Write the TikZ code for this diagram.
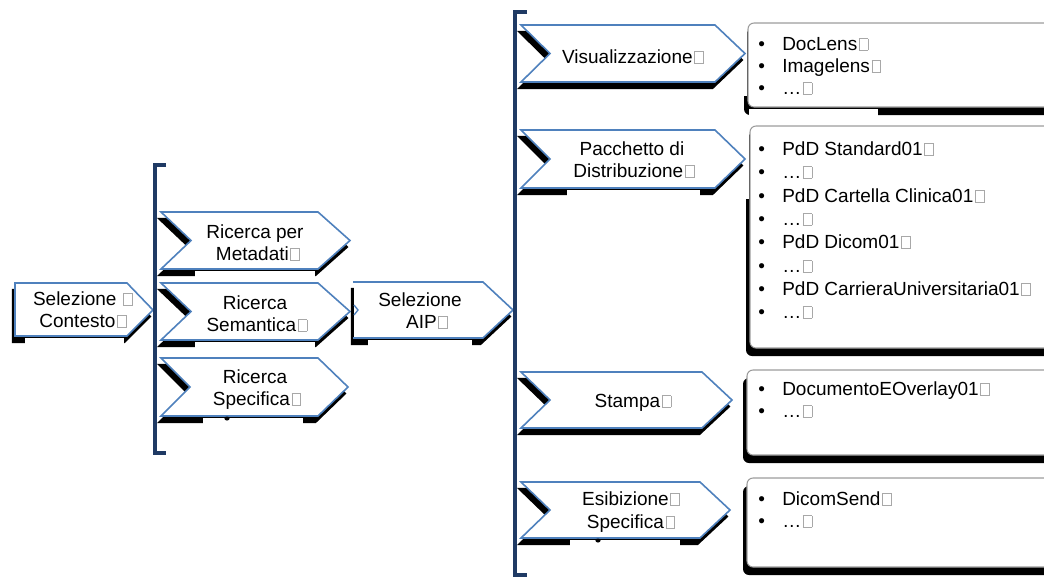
\documentclass[tikz,border=0pt]{standalone}
\usepackage{fontspec}
\setmainfont{Liberation Sans}
\definecolor{chevblue}{HTML}{4F81BD}
\definecolor{navy}{HTML}{1F3A64}
\definecolor{framegray}{HTML}{9C9C9C}
\definecolor{glgray}{HTML}{A8A8A8}
% small hollow square shown after each label
\newcommand\gl{\kern1.2pt{\color{glgray}\setlength\fboxrule{0.6pt}\setlength\fboxsep{0pt}\fbox{\rule{0pt}{8.2pt}\rule{6pt}{0pt}}}}
% chevron: shadow, white mask under the label area, white body with blue outline
\newcommand\chev[4]{%
  \filldraw[black,line width=1pt,shift={(-2.5,6.5)}] #1 -- cycle;
  \fill[white] (#2,#4+1.6) rectangle (#3,#4+12);
  \draw[chevline] #1 -- cycle;}
% rounded info panel with its dark drop shadow
\newcommand\panelshadow[4]{\fill[black,rounded corners=4.5pt,shift={(-4,8)}] (#1,#2) rectangle (#3,#4);}
\newcommand\panel[4]{\draw[panelline] (#1,#2) rectangle (#3,#4);}
\tikzset{
  chevline/.style={draw=chevblue,fill=white,line width=1.2pt,line join=miter},
  panelline/.style={draw=framegray,fill=white,line width=0.8pt,rounded corners=4.5pt},
  bracketline/.style={draw=navy,line width=2.3pt},
  lbl/.style={font=\fontsize{14.25pt}{16.5pt}\selectfont,inner sep=0pt,anchor=base},
  item/.style={font=\fontsize{14.25pt}{16.5pt}\selectfont,inner sep=0pt,anchor=base west},
}
\newcommand\bul[1]{\makebox[18pt][l]{•}#1}
\begin{document}
\begin{tikzpicture}[x=0.75pt,y=-0.75pt]
\path[use as bounding box] (0,0) rectangle (1044,576);
\clip (0,0) rectangle (1044,576);

% ---- right-hand panels ----
\panelshadow{748}{23}{1062}{107}
\panelshadow{750}{126}{1062}{348}
\panelshadow{747}{370}{1062}{455}
\panelshadow{747}{478}{1062}{567}
\fill[white] (735,18) rectangle (746.5,96);
\fill[white] (749,108.5) rectangle (878,120);
\fill[white] (735,120) rectangle (748.5,199);
\panel{748}{23}{1062}{107}
\panel{750}{126}{1062}{348}
\panel{747}{370}{1062}{455}
\panel{747}{478}{1062}{567}

% ---- chevrons ----
\chev{(15,283) -- (127,283) -- (153,310) -- (127,336) -- (15,336)}{25}{124}{336}
\chev{(161,212) -- (318,212) -- (350,240.5) -- (318,269) -- (161,269) -- (191,240.5)}{195}{315}{269}
\chev{(161,283) -- (318,283) -- (350,311.5) -- (318,340) -- (161,340) -- (191,311.5)}{195}{315}{340}
\chev{(161,358) -- (318,358) -- (348,387) -- (318,416) -- (161,416) -- (190,387)}{203}{303}{416}
\fill[black] (227,418.5) ellipse (2.6 and 2);
% AIP step: open on its left side
\filldraw[black,line width=1pt,shift={(-2.5,6.5)}] (354,282) -- (483,282) -- (513,310) -- (483,338) -- (354,338) -- cycle;
\fill[white] (368,339.6) rectangle (472,350);
\fill[white] (354,282) -- (483,282) -- (513,310) -- (483,338) -- (354,338) -- cycle;
\draw[chevblue,line width=1.2pt] (353,282) -- (483,282) -- (513,310) -- (483,338) -- (353,338);
\draw[chevblue,line width=1pt] (354,305) -- (358,310) -- (354,315);
\chev{(521,25) -- (715,25) -- (745,53.5) -- (715,82) -- (521,82) -- (550,53.5)}{0}{0}{82}
\chev{(521,130) -- (715,130) -- (745,159) -- (715,188) -- (521,188) -- (550,159)}{567}{700}{188}
\chev{(521,372) -- (702,372) -- (732,400) -- (702,428) -- (521,428) -- (550,400)}{0}{0}{428}
\chev{(521,482) -- (700,482) -- (730,510) -- (700,538) -- (521,538) -- (550,510)}{570}{680}{538}
\fill[black] (598,540.5) ellipse (2.6 and 2);

% ---- step labels ----
\node[lbl] (ctx1) at (83,305) {Selezione \gl};
\node[lbl] (ctx2) at (83,327) {Contesto\gl};
\node[lbl] (meta1) at (255,238) {Ricerca per};
\node[lbl] (meta2) at (258,260) {Metadati\gl};
\node[lbl] (sem1) at (255,309) {Ricerca};
\node[lbl] (sem2) at (257,331) {Semantica\gl};
\node[lbl] (spec1) at (255,383) {Ricerca};
\node[lbl] (spec2) at (257,405) {Specifica\gl};
\node[lbl] (aip1) at (420,306) {Selezione};
\node[lbl] (aip2) at (427,328) {AIP\gl};
\node[lbl] (vis) at (633,63) {Visualizzazione\gl};
\node[lbl] (pac1) at (632,155) {Pacchetto di};
\node[lbl] (pac2) at (634,177) {Distribuzione\gl};
\node[lbl] (sta) at (633,407) {Stampa\gl};
\node[lbl] (esi1) at (631,505) {Esibizione\gl};
\node[lbl] (esi2) at (631,528) {Specifica\gl};

% ---- panel items ----
\node[item] (v1) at (758,50) {\bul{DocLens\gl}};
\node[item] (v2) at (758,72) {\bul{Imagelens\gl}};
\node[item] (v3) at (758,94) {\bul{…\gl}};
\node[item] (p1) at (758,155) {\bul{PdD Standard01\gl}};
\node[item] (p2) at (758,178) {\bul{…\gl}};
\node[item] (p3) at (758,202) {\bul{PdD Cartella Clinica01\gl}};
\node[item] (p4) at (758,225) {\bul{…\gl}};
\node[item] (p5) at (758,248) {\bul{PdD Dicom01\gl}};
\node[item] (p6) at (758,272) {\bul{…\gl}};
\node[item] (p7) at (758,295) {\bul{PdD CarrieraUniversitaria01\gl}};
\node[item] (p8) at (758,318) {\bul{…\gl}};
\node[item] (s1) at (758,395) {\bul{DocumentoEOverlay01\gl}};
\node[item] (s2) at (758,417) {\bul{…\gl}};
\node[item] (e1) at (758,505) {\bul{DicomSend\gl}};
\node[item] (e2) at (758,527) {\bul{…\gl}};

% ---- grouping brackets ----
\draw[bracketline] (166,165) -- (155,165) -- (155,453) -- (166,453);
\draw[bracketline] (527,12) -- (515,12) -- (515,575) -- (527,575);
\end{tikzpicture}
\end{document}
